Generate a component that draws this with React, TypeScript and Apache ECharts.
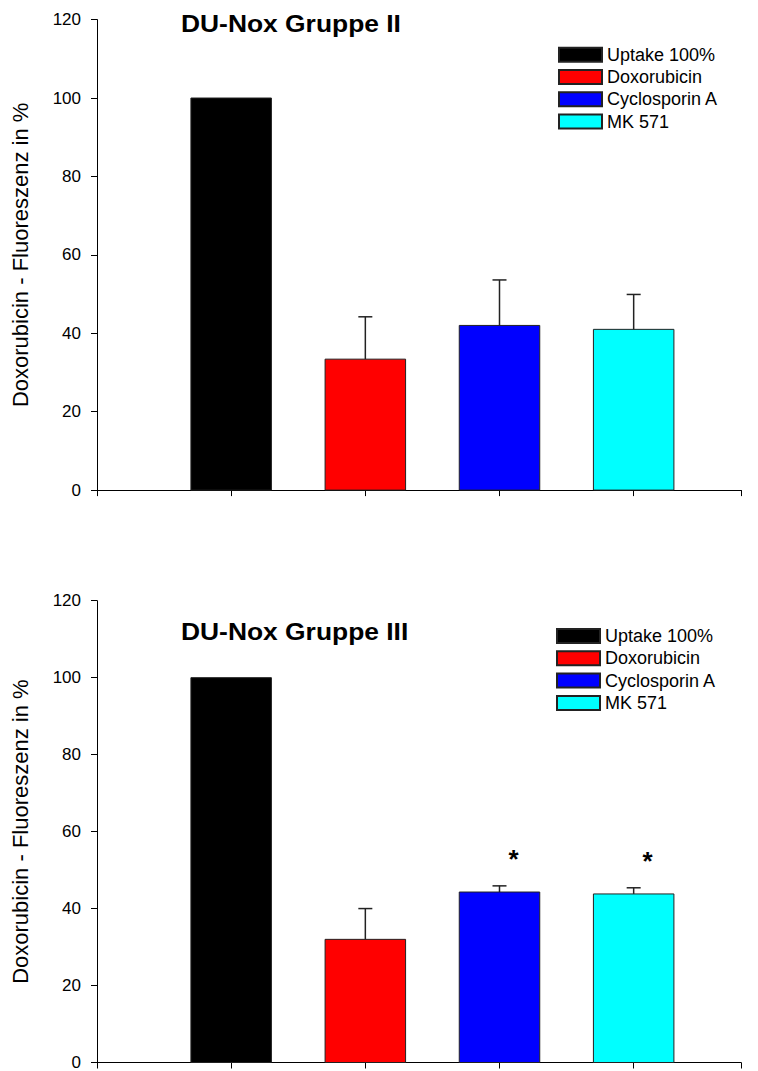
import React, { useEffect, useRef } from "react";
import * as echarts from "echarts";

const categories = ["Uptake 100%", "Doxorubicin", "Cyclosporin A", "MK 571"];
const barColors = ["#000000", "#ff0000", "#0000ff", "#00ffff"];
const meanII = [100, 33.4, 42.0, 41.0];
const errII = [0, 10.8, 11.6, 8.9];
const meanIII = [100, 32.0, 44.3, 43.8];
const errIII = [0, 8.0, 1.6, 1.6];
const sigII = ["", "", "", ""];
const sigIII = ["", "", "*", "*"];
const titles = ["DU-Nox Gruppe II", "DU-Nox Gruppe III"];
const yAxisName = "Doxorubicin - Fluoreszenz in %";
const yMin = 0;
const yMax = 120;
const yStep = 20;
const xMax = 4.8;

const FONT = "'Liberation Sans', Arial, Helvetica, sans-serif";

function renderBar(params: any, api: any) {
  const x = api.value(0);
  const m = api.value(1);
  const e = api.value(2);
  const sig = api.value(3);
  const base = api.coord([x - 0.3, 0]);
  const top = api.coord([x + 0.3, m]);
  const color = api.visual("color");
  const children: any[] = [
    {
      type: "rect",
      shape: { x: base[0], y: top[1], width: top[0] - base[0], height: base[1] - top[1] },
      style: { fill: color, stroke: "#222", lineWidth: 1 },
    },
  ];
  const mTop = api.coord([x, m]);
  const eTop = api.coord([x, m + e]);
  if (e > 0) {
    children.push({
      type: "line",
      shape: { x1: mTop[0], y1: mTop[1], x2: eTop[0], y2: eTop[1] },
      style: { stroke: "#222", lineWidth: 1.5 },
    });
    children.push({
      type: "line",
      shape: { x1: eTop[0] - 7, y1: eTop[1], x2: eTop[0] + 7, y2: eTop[1] },
      style: { stroke: "#222", lineWidth: 1.5 },
    });
  }
  if (sig) {
    children.push({
      type: "text",
      x: eTop[0] + 14,
      y: eTop[1] - 27,
      style: {
        text: sig,
        fontSize: 26,
        fontWeight: "bold",
        fontFamily: FONT,
        fill: "#000",
        align: "center",
        verticalAlign: "middle",
      },
    });
  }
  return { type: "group", children };
}

export default function App() {
  const ref = useRef<HTMLDivElement>(null);
  useEffect(() => {
    if (!ref.current) return;
    const chart = echarts.init(ref.current, undefined, { renderer: "svg" });
    const grids = [
      { left: 97, width: 644, top: 19.6, height: 470.5 },
      { left: 97, width: 644, top: 600.7, height: 463.6 },
    ];
    const means = [meanII, meanIII];
    const errs = [errII, errIII];
    const sigs = [sigII, sigIII];
    const xAxes = grids.map((_, i) => ({
      type: "value",
      gridIndex: i,
      min: 0,
      max: xMax,
      interval: 1,
      axisLine: { show: true, lineStyle: { color: "#000", width: 1 } },
      axisTick: { show: true, length: 6, inside: false, lineStyle: { color: "#000" } },
      axisLabel: { show: false },
      splitLine: { show: false },
    }));
    const yAxes = grids.map((_, i) => ({
      type: "value",
      gridIndex: i,
      min: yMin,
      max: yMax,
      interval: yStep,
      name: yAxisName,
      nameLocation: "middle",
      nameRotate: 90,
      nameGap: 66,
      nameTextStyle: { fontSize: 22, color: "#000", fontFamily: FONT },
      axisLine: { show: true, lineStyle: { color: "#000", width: 1 } },
      axisTick: { show: true, length: 6, inside: false, lineStyle: { color: "#000" } },
      axisLabel: { fontSize: 17, color: "#000", fontFamily: FONT, margin: 16 },
      splitLine: { show: false },
    }));
    const series: any[] = [];
    grids.forEach((_, gi) => {
      categories.forEach((name, ci) => {
        series.push({
          type: "custom",
          name,
          xAxisIndex: gi,
          yAxisIndex: gi,
          renderItem: renderBar,
          itemStyle: { color: barColors[ci], borderColor: "#222", borderWidth: 1 },
          encode: { x: 0, y: 1 },
          data: [[ci + 1, means[gi][ci], errs[gi][ci], sigs[gi][ci]]],
          clip: false,
        });
      });
    });
    const legendBase = {
      orient: "vertical",
      data: categories,
      icon: "rect",
      itemWidth: 43,
      itemHeight: 14,
      itemGap: 4.3,
      selectedMode: false,
      textStyle: { fontSize: 18, color: "#000", fontFamily: FONT, lineHeight: 18 },
      padding: 0,
    };
    const legends = [
      { ...legendBase, left: 558, top: 45.7 },
      { ...legendBase, left: 556, top: 627 },
    ];
    const titleY = [23, 631];
    const graphic = titles.map((t, i) => ({
      type: "text",
      x: 181,
      y: titleY[i],
      scaleX: 1.1,
      style: {
        text: t,
        fontSize: 24,
        fontWeight: "bold",
        fontFamily: FONT,
        fill: "#000",
        verticalAlign: "middle",
        align: "left",
      },
    }));
    chart.setOption({
      animation: false,
      backgroundColor: "#fff",
      grid: grids,
      xAxis: xAxes,
      yAxis: yAxes,
      legend: legends,
      series,
      graphic,
    });
    return () => chart.dispose();
  }, []);
  return (
    <div
      ref={ref}
      style={{ position: "absolute", left: 0, top: 0, width: 758, height: 1071 }}
    />
  );
}
